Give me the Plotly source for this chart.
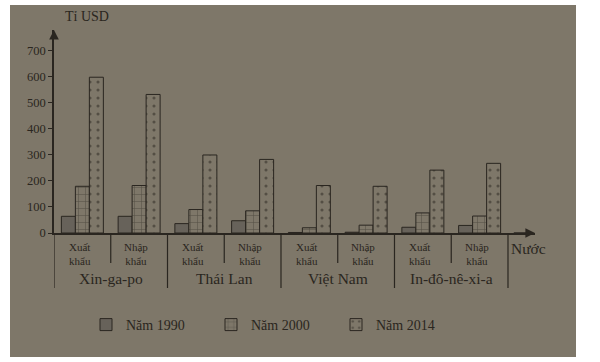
import plotly.graph_objects as go

# ---- data ----
categories = ["SG_XK", "SG_NK", "TH_XK", "TH_NK", "VN_XK", "VN_NK", "ID_XK", "ID_NK"]
sub_labels = ["Xuất<br>khẩu", "Nhập<br>khẩu"] * 4
countries = ["Xin-ga-po", "Thái Lan", "Việt Nam", "In-đô-nê-xi-a"]
years = ["Năm 1990", "Năm 2000", "Năm 2014"]
v1990 = [64, 64, 36, 47, 2, 3, 22, 29]
v2000 = [179, 182, 90, 85, 20, 30, 77, 65]
v2014 = [597, 531, 299, 282, 182, 179, 241, 267]
y_ticks = [0, 100, 200, 300, 400, 500, 600, 700]

BG = "#7e7769"
INK = "#2a2620"
FONT = "Liberation Serif"

xpos = list(range(len(categories)))

fig = go.Figure()
fig.add_bar(x=xpos, y=v1990, name=years[0],
            marker=dict(color="#67625a", line=dict(color=INK, width=1)))
fig.add_bar(x=xpos, y=v2000, name=years[1],
            marker=dict(color=BG, line=dict(color=INK, width=1),
                        pattern=dict(shape="+", fgcolor=INK, bgcolor=BG, size=7, solidity=0.15)))
fig.add_bar(x=xpos, y=v2014, name=years[2],
            marker=dict(color=BG, line=dict(color=INK, width=1),
                        pattern=dict(shape=".", fgcolor=INK, bgcolor=BG, size=8, solidity=0.12)))

# layout geometry
L, R, T, B = 54, 65, 30, 129
PH = 362 - T - B
PW = 600 - L - R
def py(p):
    return (362 - B - p) / PH
def px(p):
    return (p - L) / PW

XMAX = 7.976
YMAX = 778

shapes = []
# photo background
shapes.append(dict(type="rect", xref="paper", yref="paper",
                   x0=px(10), x1=px(576), y0=py(357), y1=py(5),
                   fillcolor=BG, line=dict(width=0), layer="below"))
# dividers under axis
for i in range(9):
    xb = i - 0.5
    y1 = py(288) if i % 2 == 0 else py(263)
    shapes.append(dict(type="line", xref="x", yref="paper", x0=xb, x1=xb,
                       y0=0, y1=y1, line=dict(color=INK, width=1.2)))

ann = []
for i, t in enumerate(sub_labels):
    ann.append(dict(x=i - 0.05, y=py(254), xref="x", yref="paper", text=t, showarrow=False,
                    font=dict(family=FONT, size=11, color=INK), yanchor="middle"))
for k, c in enumerate(countries):
    ann.append(dict(x=2 * k + 0.5, y=py(278), xref="x", yref="paper", text=c, showarrow=False,
                    font=dict(family=FONT, size=15.5, color=INK), yanchor="middle"))
ann.append(dict(x=px(548), y=py(249), xref="paper", yref="paper", text="Nước", showarrow=False,
                font=dict(family=FONT, size=15.5, color=INK), yanchor="middle"))
ann.append(dict(x=px(63), y=py(17), xref="paper", yref="paper", text="Tỉ USD", showarrow=False,
                font=dict(family=FONT, size=14, color=INK), yanchor="middle"))
# axis arrows
ann.append(dict(x=XMAX, y=0, ax=XMAX - 0.4, ay=0, xref="x", yref="y", axref="x", ayref="y",
                showarrow=True, arrowhead=2, arrowsize=1.2, arrowwidth=1.6, arrowcolor=INK, text=""))
ann.append(dict(x=-0.5, y=YMAX, ax=-0.5, ay=YMAX - 40, xref="x", yref="y", axref="x", ayref="y",
                showarrow=True, arrowhead=2, arrowsize=1.2, arrowwidth=1.6, arrowcolor=INK, text=""))

fig.update_layout(
    width=600, height=362,
    margin=dict(l=L, r=R, t=T, b=B),
    paper_bgcolor="white",
    plot_bgcolor="rgba(0,0,0,0)",
    barmode="group", bargap=0.26, bargroupgap=0,
    showlegend=True,
    legend=dict(orientation="h", x=px(86), y=py(309), xanchor="left", yanchor="top",
                bgcolor="rgba(0,0,0,0)", font=dict(family=FONT, size=14, color=INK),
                entrywidth=80, entrywidthmode="pixels", traceorder="normal"),
    shapes=shapes, annotations=ann,
    font=dict(family=FONT, color=INK),
)
fig.update_xaxes(range=[-0.5, XMAX], showticklabels=False, ticks="", showgrid=False,
                 zeroline=False, showline=True, linecolor=INK, linewidth=2)
fig.update_yaxes(range=[0, YMAX], tickvals=y_ticks, ticktext=[str(v) for v in y_ticks],
                 ticks="outside", ticklen=4, tickcolor=INK, showgrid=False, zeroline=False,
                 showline=True, linecolor=INK, linewidth=1.6,
                 tickfont=dict(family=FONT, size=12.5, color=INK))

fig.write_html("out.html", config={"displayModeBar": False},
               post_script="document.body.style.margin='0';")
